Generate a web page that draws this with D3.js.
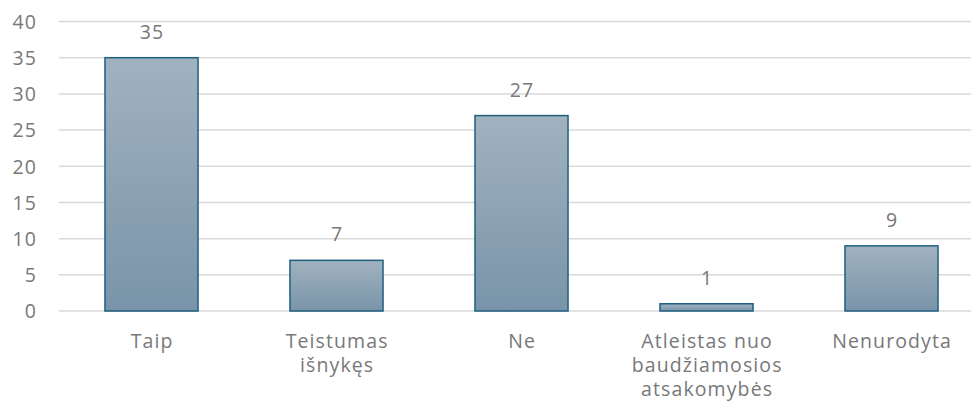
<html>

<head>
    <meta charset="utf-8">
    <title>Stulpelinė diagrama</title>
    <style>
        body { margin: 0; background: #fff; }
        text { font-family: "Open Sans", "Noto Sans", sans-serif; letter-spacing: 1.1px; }
    </style>
</head>

<body>
    <script src="https://cdn.jsdelivr.net/npm/d3@7/dist/d3.min.js" charset="utf-8"></script>
    <script>
        var width = 971;
        var height = 409;
        var categories = [["Taip"], ["Teistumas", "išnykęs"], ["Ne"], ["Atleistas nuo", "baudžiamosios", "atsakomybės"], ["Nenurodyta"]];
        var values = [35, 7, 27, 1, 9];
        var yTicks = [0, 5, 10, 15, 20, 25, 30, 35, 40];

        var textColor = "#787878";
        var fontSize = 19.5;

        var svg = d3.select("body")
            .append("svg")
            .attr("width", width)
            .attr("height", height);

        // gradientas stulpeliams
        var grad = svg.append("defs").append("linearGradient")
            .attr("id", "barGrad")
            .attr("x1", 0).attr("y1", 0).attr("x2", 0).attr("y2", 1);
        grad.append("stop").attr("offset", "0%").attr("stop-color", "#a1b2bf");
        grad.append("stop").attr("offset", "100%").attr("stop-color", "#7994a9");

        var x = d3.scaleBand()
            .domain(d3.range(values.length))
            .range([59, 984])
            .paddingInner(0.497)
            .paddingOuter(0.2485);
        var y = d3.scaleLinear()
            .domain([0, 40])
            .range([311, 21.5]);

        // tinklelis
        svg.append("g")
            .selectAll("line")
            .data(yTicks)
            .enter()
            .append("line")
            .attr("x1", 59)
            .attr("x2", width)
            .attr("y1", function (d) { return y(d); })
            .attr("y2", function (d) { return y(d); })
            .attr("stroke", "#d9d9d9")
            .attr("stroke-width", 1.5);

        // y ašis
        var yAxis = d3.axisLeft(y).tickValues(yTicks).tickSize(0).tickPadding(0);
        var gy = svg.append("g")
            .attr("transform", "translate(37,0)")
            .call(yAxis);
        gy.select(".domain").remove();
        gy.selectAll("text")
            .attr("fill", textColor)
            .attr("font-size", fontSize)
            .attr("font-family", null)
            .attr("dy", "0.35em");
        gy.attr("font-family", null);

        // stulpeliai
        svg.append("g")
            .selectAll("rect")
            .data(values)
            .enter()
            .append("rect")
            .attr("x", function (d, i) { return x(i); })
            .attr("y", function (d) { return y(d); })
            .attr("width", x.bandwidth())
            .attr("height", function (d) { return y(0) - y(d); })
            .attr("fill", "url(#barGrad)")
            .attr("stroke", "#1f5f80")
            .attr("stroke-width", 1.5);

        // reikšmės virš stulpelių
        svg.append("g")
            .selectAll("text")
            .data(values)
            .enter()
            .append("text")
            .attr("x", function (d, i) { return x(i) + x.bandwidth() / 2 + 0.6; })
            .attr("y", function (d) { return y(d) - 19; })
            .attr("text-anchor", "middle")
            .attr("font-size", fontSize)
            .attr("fill", textColor)
            .text(function (d) { return d; });

        // kategorijų pavadinimai
        var labels = svg.append("g")
            .selectAll("text")
            .data(categories)
            .enter()
            .append("text")
            .attr("text-anchor", "middle")
            .attr("font-size", fontSize)
            .attr("fill", textColor)
            .attr("transform", function (d, i) {
                return "translate(" + (x(i) + x.bandwidth() / 2 + 0.6) + ",348)";
            });
        labels.selectAll("tspan")
            .data(function (d) { return d; })
            .enter()
            .append("tspan")
            .attr("x", 0)
            .attr("y", function (d, i) { return i * 24; })
            .text(function (d) { return d; });
    </script>
</body>

</html>
